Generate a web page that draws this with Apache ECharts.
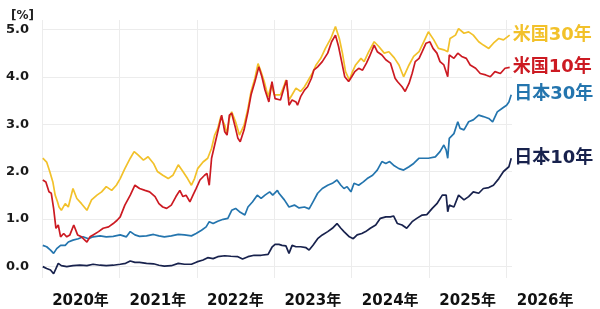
<!DOCTYPE html>
<html><head><meta charset="utf-8">
<script src="https://cdn.jsdelivr.net/npm/echarts@6/dist/echarts.min.js"></script>
<style>html,body{margin:0;padding:0;background:#fff}#c{width:600px;height:309px}</style>
</head><body><div id="c"></div>
<script>
const yearTicks = [2020, 2021, 2022, 2023, 2024, 2025, 2026];
const yTicks = [0, 1, 2, 3, 4, 5];
const seriesNames = ['米国30年', '米国10年', '日本30年', '日本10年'];

const us30 = [[2020.01,2.28],[2020.06,2.2],[2020.10,2.0],[2020.14,1.78],[2020.17,1.5],[2020.20,1.36],[2020.22,1.25],[2020.25,1.18],[2020.30,1.32],[2020.34,1.25],[2020.40,1.64],[2020.45,1.43],[2020.51,1.32],[2020.58,1.18],[2020.64,1.4],[2020.71,1.5],[2020.77,1.57],[2020.83,1.68],[2020.90,1.6],[2020.96,1.71],[2021.01,1.85],[2021.07,2.06],[2021.14,2.28],[2021.19,2.42],[2021.24,2.35],[2021.31,2.24],[2021.37,2.31],[2021.44,2.17],[2021.49,2.0],[2021.56,1.92],[2021.63,1.85],[2021.69,1.92],[2021.76,2.14],[2021.82,2.0],[2021.88,1.85],[2021.93,1.71],[2021.97,1.85],[2022.01,2.06],[2022.08,2.2],[2022.14,2.28],[2022.19,2.49],[2022.23,2.77],[2022.27,2.91],[2022.31,3.16],[2022.36,2.98],[2022.39,2.8],[2022.42,3.12],[2022.45,3.26],[2022.50,3.05],[2022.55,2.77],[2022.61,2.98],[2022.66,3.33],[2022.70,3.69],[2022.75,3.97],[2022.79,4.28],[2022.83,4.1],[2022.87,3.9],[2022.92,3.58],[2022.96,3.83],[2023.00,3.62],[2023.08,3.62],[2023.13,3.83],[2023.15,3.93],[2023.19,3.51],[2023.23,3.62],[2023.28,3.76],[2023.34,3.69],[2023.39,3.79],[2023.43,3.9],[2023.49,4.07],[2023.54,4.25],[2023.60,4.39],[2023.66,4.6],[2023.73,4.81],[2023.79,5.06],[2023.84,4.81],[2023.88,4.5],[2023.92,4.11],[2023.97,3.93],[2024.01,4.11],[2024.05,4.25],[2024.12,4.39],[2024.16,4.32],[2024.22,4.53],[2024.29,4.74],[2024.35,4.64],[2024.42,4.5],[2024.48,4.53],[2024.55,4.4],[2024.61,4.25],[2024.67,4.0],[2024.74,4.25],[2024.80,4.43],[2024.87,4.53],[2024.93,4.74],[2024.99,4.95],[2025.06,4.78],[2025.12,4.6],[2025.19,4.57],[2025.24,4.53],[2025.27,4.81],[2025.34,4.88],[2025.38,5.02],[2025.45,4.92],[2025.51,4.95],[2025.57,4.88],[2025.64,4.74],[2025.70,4.67],[2025.77,4.6],[2025.83,4.71],[2025.90,4.81],[2025.96,4.78],[2026.04,4.88]];

const us10 = [[2020.01,1.82],[2020.05,1.78],[2020.09,1.57],[2020.12,1.54],[2020.15,1.22],[2020.18,0.8],[2020.21,0.87],[2020.24,0.62],[2020.28,0.69],[2020.32,0.62],[2020.36,0.66],[2020.41,0.87],[2020.46,0.66],[2020.51,0.62],[2020.58,0.51],[2020.62,0.62],[2020.66,0.66],[2020.73,0.73],[2020.79,0.8],[2020.86,0.83],[2020.92,0.9],[2020.97,0.97],[2021.01,1.04],[2021.07,1.29],[2021.14,1.5],[2021.20,1.71],[2021.26,1.64],[2021.33,1.6],[2021.39,1.57],[2021.46,1.47],[2021.51,1.32],[2021.56,1.25],[2021.61,1.22],[2021.67,1.29],[2021.73,1.47],[2021.78,1.6],[2021.82,1.47],[2021.86,1.5],[2021.91,1.36],[2021.95,1.5],[2021.99,1.64],[2022.04,1.82],[2022.10,1.92],[2022.13,1.96],[2022.16,1.71],[2022.19,2.28],[2022.23,2.56],[2022.27,2.84],[2022.32,3.19],[2022.36,2.84],[2022.39,2.77],[2022.42,3.19],[2022.45,3.23],[2022.50,2.91],[2022.53,2.7],[2022.56,2.63],[2022.61,2.88],[2022.66,3.26],[2022.70,3.62],[2022.75,3.9],[2022.80,4.21],[2022.84,4.0],[2022.88,3.72],[2022.93,3.47],[2022.97,3.9],[2023.01,3.54],[2023.08,3.51],[2023.13,3.79],[2023.16,3.93],[2023.19,3.4],[2023.23,3.51],[2023.28,3.47],[2023.30,3.4],[2023.34,3.58],[2023.39,3.72],[2023.43,3.79],[2023.48,3.97],[2023.51,4.14],[2023.56,4.21],[2023.62,4.32],[2023.69,4.5],[2023.74,4.74],[2023.79,4.88],[2023.83,4.64],[2023.87,4.32],[2023.91,4.0],[2023.96,3.9],[2024.00,4.0],[2024.04,4.11],[2024.09,4.18],[2024.14,4.14],[2024.19,4.29],[2024.23,4.43],[2024.29,4.67],[2024.33,4.53],[2024.39,4.46],[2024.44,4.36],[2024.50,4.29],[2024.56,3.97],[2024.59,3.9],[2024.65,3.79],[2024.69,3.69],[2024.74,3.86],[2024.78,4.07],[2024.82,4.32],[2024.87,4.39],[2024.91,4.53],[2024.96,4.71],[2025.01,4.74],[2025.05,4.6],[2025.10,4.5],[2025.14,4.32],[2025.19,4.25],[2025.24,4.0],[2025.26,4.46],[2025.32,4.39],[2025.37,4.5],[2025.42,4.43],[2025.48,4.39],[2025.53,4.25],[2025.60,4.18],[2025.66,4.07],[2025.73,4.04],[2025.79,4.0],[2025.85,4.11],[2025.92,4.07],[2025.98,4.18],[2026.04,4.2]];

const jp30 = [[2020.01,0.44],[2020.06,0.41],[2020.11,0.34],[2020.15,0.27],[2020.19,0.37],[2020.24,0.44],[2020.30,0.44],[2020.34,0.51],[2020.40,0.55],[2020.47,0.58],[2020.53,0.62],[2020.60,0.58],[2020.66,0.62],[2020.75,0.64],[2020.83,0.62],[2020.92,0.63],[2021.01,0.66],[2021.09,0.62],[2021.14,0.73],[2021.20,0.66],[2021.26,0.63],[2021.35,0.64],[2021.44,0.67],[2021.51,0.64],[2021.58,0.62],[2021.67,0.64],[2021.76,0.67],[2021.84,0.66],[2021.93,0.64],[2021.99,0.69],[2022.06,0.76],[2022.12,0.83],[2022.16,0.94],[2022.21,0.9],[2022.27,0.95],[2022.34,0.99],[2022.40,1.01],[2022.45,1.18],[2022.50,1.22],[2022.55,1.15],[2022.62,1.08],[2022.66,1.25],[2022.72,1.36],[2022.78,1.5],[2022.83,1.43],[2022.88,1.5],[2022.94,1.57],[2022.98,1.5],[2023.04,1.6],[2023.06,1.54],[2023.13,1.4],[2023.19,1.25],[2023.26,1.29],[2023.32,1.23],[2023.39,1.25],[2023.45,1.21],[2023.50,1.36],[2023.56,1.54],[2023.62,1.64],[2023.69,1.71],[2023.75,1.75],[2023.81,1.82],[2023.86,1.71],[2023.90,1.64],[2023.94,1.68],[2023.99,1.57],[2024.03,1.75],[2024.09,1.71],[2024.15,1.78],[2024.20,1.85],[2024.27,1.92],[2024.33,2.03],[2024.39,2.21],[2024.44,2.17],[2024.49,2.21],[2024.55,2.12],[2024.61,2.06],[2024.67,2.03],[2024.74,2.1],[2024.80,2.17],[2024.87,2.28],[2024.93,2.28],[2024.99,2.28],[2025.08,2.31],[2025.14,2.42],[2025.19,2.56],[2025.22,2.45],[2025.24,2.28],[2025.26,2.7],[2025.32,2.8],[2025.37,3.05],[2025.40,2.91],[2025.45,2.88],[2025.51,3.05],[2025.57,3.09],[2025.64,3.19],[2025.70,3.16],[2025.77,3.12],[2025.82,3.05],[2025.88,3.26],[2025.94,3.33],[2026.00,3.4],[2026.03,3.47],[2026.06,3.62]];

const jp10 = [[2020.01,-0.01],[2020.06,-0.05],[2020.11,-0.08],[2020.15,-0.16],[2020.18,-0.05],[2020.21,0.06],[2020.25,0.01],[2020.32,-0.01],[2020.40,0.01],[2020.49,0.02],[2020.58,0.01],[2020.66,0.04],[2020.75,0.02],[2020.83,0.01],[2020.92,0.02],[2021.01,0.04],[2021.08,0.06],[2021.14,0.11],[2021.20,0.08],[2021.26,0.08],[2021.35,0.06],[2021.44,0.05],[2021.51,0.02],[2021.58,0.0],[2021.67,0.01],[2021.76,0.06],[2021.84,0.04],[2021.93,0.04],[2022.00,0.09],[2022.08,0.13],[2022.14,0.18],[2022.21,0.16],[2022.27,0.2],[2022.36,0.22],[2022.44,0.21],[2022.53,0.2],[2022.59,0.15],[2022.66,0.2],[2022.74,0.23],[2022.83,0.23],[2022.92,0.25],[2022.97,0.40],[2023.01,0.46],[2023.06,0.46],[2023.10,0.44],[2023.15,0.43],[2023.19,0.27],[2023.23,0.44],[2023.28,0.41],[2023.34,0.41],[2023.41,0.39],[2023.45,0.34],[2023.50,0.44],[2023.56,0.58],[2023.62,0.66],[2023.69,0.73],[2023.75,0.8],[2023.81,0.9],[2023.86,0.8],[2023.90,0.73],[2023.97,0.62],[2024.02,0.58],[2024.07,0.66],[2024.13,0.69],[2024.18,0.73],[2024.24,0.8],[2024.31,0.87],[2024.37,1.01],[2024.44,1.04],[2024.50,1.04],[2024.54,1.06],[2024.59,0.9],[2024.65,0.87],[2024.71,0.8],[2024.78,0.94],[2024.84,1.01],[2024.91,1.08],[2024.97,1.09],[2025.04,1.22],[2025.10,1.32],[2025.17,1.5],[2025.22,1.5],[2025.24,1.15],[2025.26,1.29],[2025.32,1.25],[2025.38,1.5],[2025.45,1.4],[2025.51,1.47],[2025.57,1.57],[2025.64,1.54],[2025.70,1.64],[2025.77,1.66],[2025.83,1.71],[2025.90,1.85],[2025.96,2.0],[2026.03,2.1],[2026.06,2.28]];

const colors = ['#f2c12a', '#cc1a22', '#2475ae', '#18224d'];
const allData = [us30, us10, jp30, jp10];
const FONT = '"DejaVu Sans", "Noto Sans CJK JP", sans-serif';

const chart = echarts.init(document.getElementById('c'), null, {renderer: 'canvas'});
chart.setOption({
  animation: false,
  textStyle: {fontFamily: FONT},
  title: {text: '[%]', left: 6, top: 5, textStyle: {fontSize: 12, fontWeight: 'bold', color: '#222', fontFamily: FONT}},
  grid: {left: 42, right: 88, top: 20, bottom: 31, containLabel: false},
  xAxis: {
    type: 'value', min: 2020, max: 2026.07,
    axisLine: {show: false},
    axisTick: {show: false, customValues: yearTicks},
    splitLine: {show: true, lineStyle: {color: '#ececec', width: 1}},
    axisLabel: {
      customValues: yearTicks,
      formatter: v => Math.round(v) + '年',
      fontSize: 15, fontWeight: 'bold', color: '#111', fontFamily: FONT,
      padding: [0, 0, 0, 77], margin: 16
    }
  },
  yAxis: {
    type: 'value', min: -0.25, max: 5.2,
    axisLine: {show: false},
    axisTick: {show: false, customValues: yTicks},
    splitLine: {show: true, lineStyle: {color: '#ececec', width: 1}},
    axisLabel: {customValues: yTicks, formatter: v => v.toFixed(1), fontSize: 13, fontWeight: 'bold', color: '#1a1a1a', margin: 13, fontFamily: FONT}
  },
  series: allData.map((d, i) => ({
    name: seriesNames[i], type: 'line', data: d, showSymbol: false,
    lineStyle: {color: colors[i], width: 1.7}, itemStyle: {color: colors[i]},
    z: 2 + (i === 1 ? 1 : 0),
    endLabel: {show: true, formatter: '{a}', color: colors[i], fontSize: 18, fontWeight: 'bold', distance: 3, fontFamily: FONT}
  }))
});
</script>
</body></html>
